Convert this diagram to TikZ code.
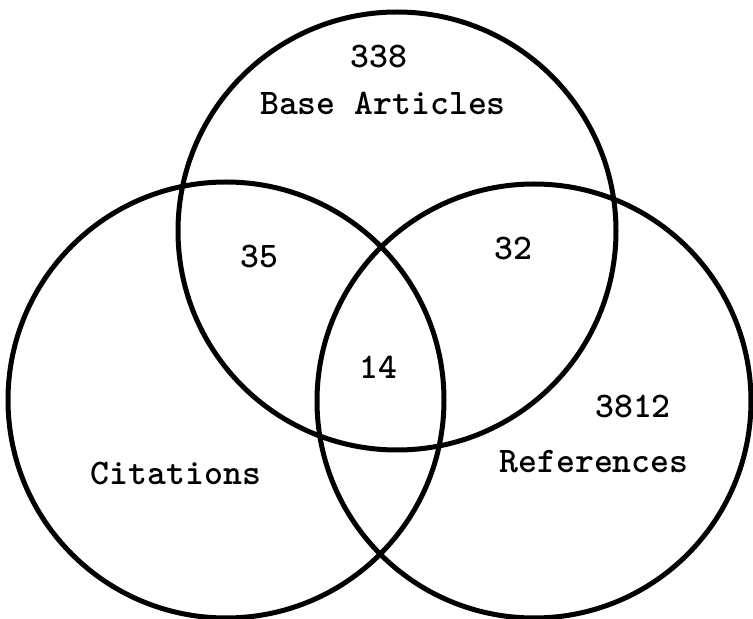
\documentclass[tikz,border=0pt]{standalone}
\begin{document}
\begin{tikzpicture}[x=1pt,y=1pt,
  setring/.style={draw=black, line width=5pt, circle, inner sep=0pt, outer sep=0pt},
  lbl/.style={anchor=base, inner sep=0pt, font=\ttfamily\bfseries\fontsize{36}{40}\selectfont, text=black}]
\useasboundingbox (0,0) rectangle (753,619);
\node[setring, minimum size=438pt] (base) at (397,388) {};
\node[setring, minimum size=436pt] (cit) at (226,219) {};
\node[setring, minimum size=434pt] (ref) at (534,218) {};
\node[lbl] (n338) at (379,551) {338};
\node[lbl] (tbase) at (383,504) {Base Articles};
\node[lbl] (n35) at (259,351) {35};
\node[lbl] (n32) at (513,359) {32};
\node[lbl] (n14) at (378,240) {14};
\node[lbl] (n3812) at (633,201) {3812};
\node[lbl] (tref) at (594,146) {References};
\node[lbl] (tcit) at (176,134) {Citations};
\end{tikzpicture}
\end{document}
